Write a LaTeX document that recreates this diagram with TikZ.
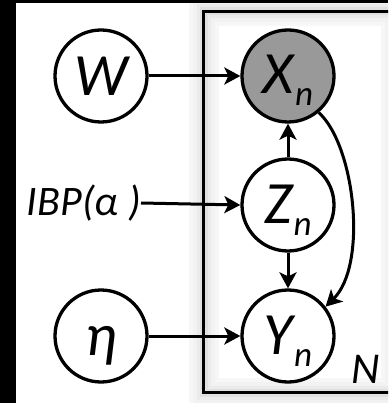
\documentclass[tikz,border=0pt]{standalone}
\usepackage{fontspec}
\setmainfont{Carlito}
\usetikzlibrary{arrows.meta}
\newcommand{\subn}[1]{\kern1pt\raisebox{-12pt}{\fontsize{35}{40}\selectfont #1}}
\tikzset{
  rv/.style={circle, draw, line width=3.3pt, minimum size=92pt, inner sep=0pt, fill=white,
             text height=39pt, text depth=0pt,
             font=\fontsize{60}{66}\selectfont\itshape},
  rvs/.style={rv, text depth=3pt},
  obs/.style={rvs, fill=black!40},
  arr/.style={line width=3pt, -{Stealth[length=16pt,width=17pt,inset=4pt]}},
  lbl/.style={inner sep=0pt, font=\fontsize{42}{46}\selectfont\itshape},
  plate/.style={line width=3.5pt},
}
\begin{document}
\begin{tikzpicture}[x=1pt,y=-1pt]
  \useasboundingbox (0,0) rectangle (388,403);
  \fill[white] (0,0) rectangle (388,403);
  % glow around plate
  \begin{scope}
    \clip (0,0) rectangle (388,403);
    \draw[line width=30pt, black!3] (203.5,11.5) rectangle (396,392.5);
    \draw[line width=22pt, black!5] (203.5,11.5) rectangle (396,392.5);
    \draw[line width=14pt, black!8] (203.5,11.5) rectangle (396,392.5);
    \draw[line width=8pt, black!12] (203.5,11.5) rectangle (396,392.5);
    \draw[plate] (203.5,11.5) rectangle (396,392.5);
  \end{scope}
  % black edges
  \fill[black] (0,0) rectangle (388,3);
  \fill[black] (0,0) rectangle (16,403);

  \node[rv]  (W)   at (101,76)  {W};
  \node[obs] (X)   at (288,76)  {X\subn{n}};
  \node[rvs] (Z)   at (288,205) {Z\subn{n}};
  \node[rvs] (Y)   at (288,336) {Y\subn{n}};
  \node[rv]  (eta) at (101,336) {η};
  \node[lbl, anchor=east] (ibp) at (141,203) {IBP(α )};
  \node[inner sep=0pt, font=\fontsize{44}{48}\selectfont\itshape] (N) at (366,369) {N};

  \draw[arr] (W) -- (X);
  \draw[arr] (ibp.east) -- (Z.west);
  \draw[arr] (eta) -- (Y);
  \draw[arr] (Z) -- (X);
  \draw[arr] (Z) -- (Y);
  \draw[arr] (X.-50) .. controls (355,145) and (368,265) .. (Y.38);
\end{tikzpicture}
\end{document}
